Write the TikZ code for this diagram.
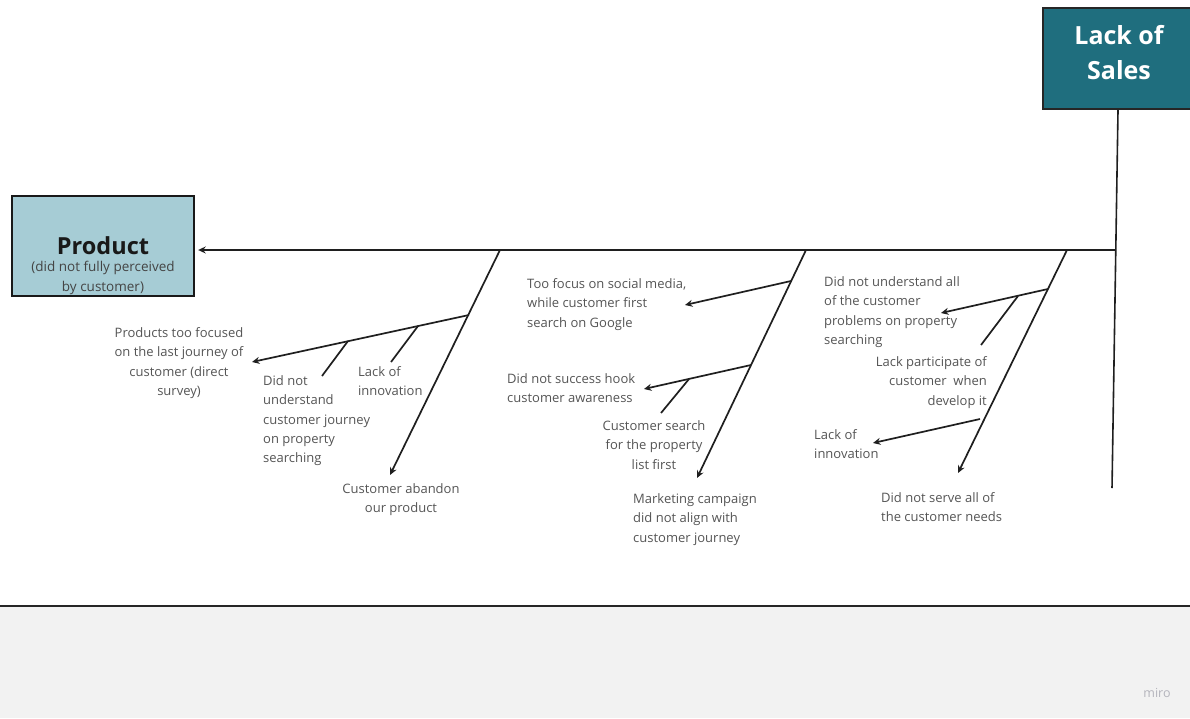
\documentclass[tikz,border=0pt]{standalone}
\usepackage{fontspec}
\setmainfont{Open Sans}
\usetikzlibrary{arrows.meta}
\definecolor{tealbox}{HTML}{1F6E7E}
\definecolor{lightbox}{HTML}{A6CCD5}
\definecolor{txtgray}{HTML}{555555}
\definecolor{subgray}{HTML}{444444}
\definecolor{footergray}{HTML}{F2F2F2}
\definecolor{mirogray}{HTML}{B4B4BC}
\begin{document}
\begin{tikzpicture}[x=1pt,y=-1pt,
  bone/.style={line width=1.7pt, draw=black!88},
  arr/.style={bone, -{Stealth[length=7.5pt,width=7pt,inset=2.5pt]}},
  lbl/.style={font=\fontsize{13}{19.3}\selectfont, text=txtgray, inner sep=0pt},
  effectbox/.style={draw=black!85, line width=2pt, fill=tealbox, minimum width=150pt, minimum height=101pt, inner sep=0pt},
  catbox/.style={draw=black!90, line width=2.4pt, fill=lightbox, minimum width=182pt, minimum height=100pt, inner sep=0pt},
]
% canvas and footer
\path[fill=white] (0,0) rectangle (1190,718);
\useasboundingbox (0,0) rectangle (1190,718);
\path[fill=footergray] (0,606) rectangle (1190,718);
\draw[line width=2.2pt, draw=black!85] (0,606) -- (1190,606);
\node[font=\fontsize{12.5}{14}\selectfont, text=mirogray, inner sep=0pt] (miro) at (1157,693) {miro};

% head (effect)
\node[effectbox] (effect) at (1118,58.5) {};
\node[font=\bfseries\fontsize{25}{35}\selectfont, text=white, align=center, inner sep=0pt, anchor=north] (effecttxt) at (1119,25) {Lack of\\Sales};

% category box
\node[catbox] (product) at (103,246) {};
\node[font=\bfseries\fontsize{23.5}{24}\selectfont, text=black!90, inner sep=0pt] (producttitle) at (103,246) {Product};
\node[font=\fontsize{13.5}{19.5}\selectfont, text=subgray, align=center, inner sep=0pt, anchor=north] (productsub) at (103,261) {(did not fully perceived\\by customer)};

% spine coordinates
\coordinate (spineR) at (1115,250);
\coordinate (tailEnd) at (1112,488);
\draw[bone, line width=1.6pt] (effect.south) -- (tailEnd);
\draw[arr, line width=1.6pt, shorten >=3pt] (spineR) -- (spineR -| product.east);

% bone 1
\coordinate (b1s) at (500,250);
\coordinate (b1e) at (390,475);
\coordinate (s1s) at (469,315);
\coordinate (s1e) at (252,362);
\coordinate (k1s) at (418,326);
\coordinate (k1e) at (391,362);
\coordinate (k2s) at (348,341);
\coordinate (k2e) at (322,376);
\draw[arr] (b1s) -- (b1e);
\draw[arr] (s1s) -- (s1e);
\draw[bone] (k1s) -- (k1e);
\draw[bone] (k2s) -- (k2e);

% bone 2
\coordinate (b2s) at (806,250);
\coordinate (b2e) at (697,478);
\coordinate (s2as) at (791,281);
\coordinate (s2ae) at (685,305);
\coordinate (s2bs) at (751,365);
\coordinate (s2be) at (644,389);
\coordinate (k3s) at (689,379);
\coordinate (k3e) at (661,413);
\draw[arr] (b2s) -- (b2e);
\draw[arr] (s2as) -- (s2ae);
\draw[arr] (s2bs) -- (s2be);
\draw[bone] (k3s) -- (k3e);

% bone 3
\coordinate (b3s) at (1067,250);
\coordinate (b3e) at (958,473);
\coordinate (s3as) at (1048,289);
\coordinate (s3ae) at (941,313);
\coordinate (k4s) at (1018,296);
\coordinate (k4e) at (981,345);
\coordinate (s3bs) at (980,419);
\coordinate (s3be) at (873,443);
\draw[arr] (b3s) -- (b3e);
\draw[arr] (s3as) -- (s3ae);
\draw[bone] (k4s) -- (k4e);
\draw[arr] (s3bs) -- (s3be);

% labels bone 1
\node[lbl, align=center, anchor=north] (t1) at (179,327.5) {Products too focused\\on the last journey of\\customer (direct\\survey)};
\node[lbl, align=left, anchor=north west] (t2) at (263,375.5) {Did not\\understand\\customer journey\\on property\\searching};
\node[lbl, align=left, anchor=north west] (t3) at (358,366.5) {Lack of\\innovation};
\node[lbl, align=center, anchor=north] (t4) at (401,483.5) {Customer abandon\\our product};

% labels bone 2
\node[lbl, align=left, anchor=north west] (t5) at (527,278.5) {Too focus on social media,\\while customer first\\search on Google};
\node[lbl, align=left, anchor=north west] (t6) at (507,373.5) {Did not success hook\\customer awareness};
\node[lbl, align=center, anchor=north] (t7) at (654,420.5) {Customer search\\for the property\\list first};
\node[lbl, align=left, anchor=north west] (t8) at (633,493.5) {Marketing campaign\\did not align with\\customer journey};

% labels bone 3
\node[lbl, align=left, anchor=north west] (t9) at (824,276.5) {Did not understand all\\of the customer\\problems on property\\searching};
\node[lbl, align=right, anchor=north east] (t10) at (987,356.5) {Lack participate of\\customer\ \ when\\develop it};
\node[lbl, align=left, anchor=north west] (t11) at (814,429.5) {Lack of\\innovation};
\node[lbl, align=left, anchor=north west] (t12) at (881,492.5) {Did not serve all of\\the customer needs};
\end{tikzpicture}
\end{document}
